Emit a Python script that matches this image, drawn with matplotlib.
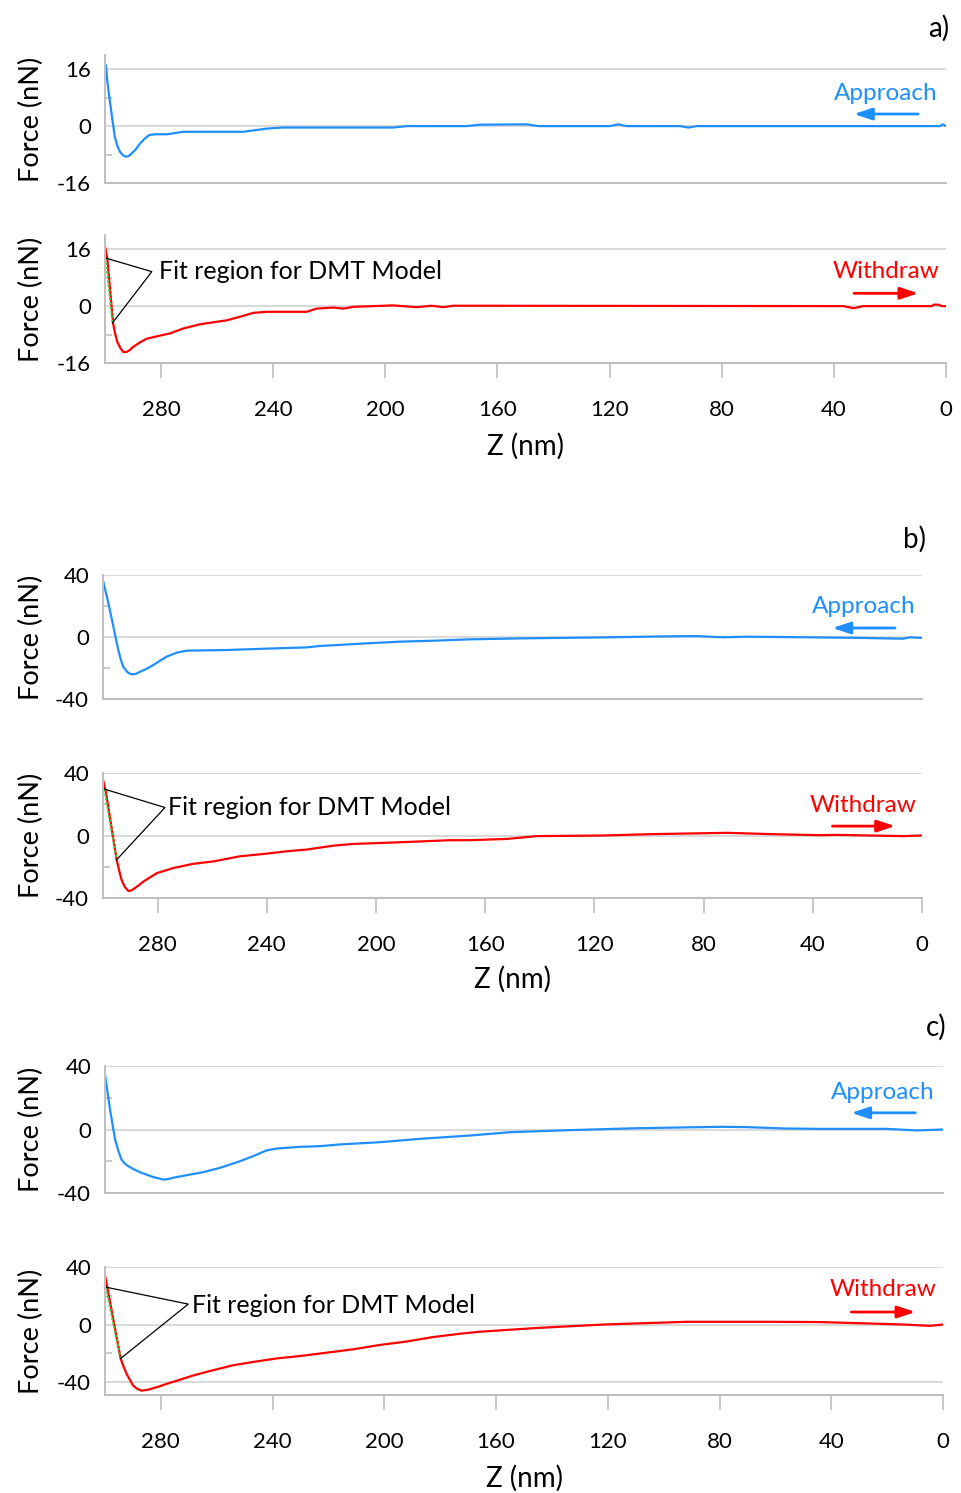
import numpy as np
import matplotlib
matplotlib.use('Agg')
import matplotlib.pyplot as plt
from matplotlib.ticker import MultipleLocator

plt.rcParams['font.family'] = ['Lato', 'DejaVu Sans']
plt.rcParams['axes.unicode_minus'] = False

# ---- data (Z in nm, force in nN) ----
a_app_z = [299.7, 299.0, 298.3, 297.4, 296.5, 295.6, 294.7, 293.6, 292.5, 291.5, 290.5, 289.0,
           287.5, 285.8, 284.2, 282.0, 278.0, 272.1, 250.7, 242.3, 236.4, 197.2, 192.4, 171.0,
           166.2, 149.6, 145.4, 119.9, 116.9, 113.9, 94.9, 91.9, 88.9, 2.1, 1.2, 0.0]
a_app_f = [17.1, 11.5, 7.3, 2.0, -3.0, -5.5, -7.2, -8.2, -8.6, -8.4, -7.7, -6.5,
           -4.9, -3.5, -2.5, -2.3, -2.3, -1.6, -1.6, -0.7, -0.4, -0.4, 0.0, 0.0,
           0.4, 0.5, 0.0, 0.0, 0.5, 0.0, 0.0, -0.4, 0.0, 0.0, 0.5, 0.0]
a_wd_z = [300.0, 299.2, 297.1, 296.3, 295.6, 294.5, 293.5, 292.3, 291.2, 290.0, 287.5, 285.2,
          281.0, 276.9, 272.1, 266.1, 256.6, 251.9, 247.1, 242.3, 228.1, 224.5, 218.6, 215.0,
          211.4, 197.2, 188.8, 183.5, 179.3, 175.8, 166.2, 36.6, 33.0, 29.5, 5.1, 4.3, 2.7, 1.5, 0.0]
a_wd_f = [16.8, 13.5, -4.9, -8.0, -10.1, -11.8, -12.9, -12.9, -12.4, -11.5, -10.2, -9.2,
          -8.4, -7.7, -6.3, -5.1, -4.0, -3.0, -1.9, -1.6, -1.6, -0.7, -0.4, -0.7,
          -0.2, 0.2, -0.3, 0.1, -0.3, 0.1, 0.1, 0.0, -0.6, 0.0, 0.0, 0.4, 0.4, 0.0, 0.0]
a_fit_z = [299.7, 297.3]
a_fit_f = [13.5, -4.7]

b_app_z = [299.9, 298.0, 296.2, 294.4, 293.5, 292.6, 291.0, 289.5, 288.0, 286.4, 284.0, 281.6,
           279.0, 276.7, 273.0, 269.3, 254.7, 240.0, 225.4, 220.5, 203.4, 191.2, 179.0, 165.6,
           147.3, 114.3, 94.8, 82.6, 72.8, 64.3, 25.2, 6.9, 4.4, 0.0]
b_app_f = [35.7, 21.7, 6.7, -8.4, -14.5, -19.2, -22.8, -24.1, -23.8, -22.4, -20.5, -18.1,
           -15.2, -12.7, -10.1, -8.8, -8.4, -7.5, -6.7, -5.8, -4.1, -3.0, -2.4, -1.5,
           -0.9, -0.2, 0.4, 0.6, -0.2, 0.2, -0.5, -1.1, -0.2, -0.6]
b_wd_z = [299.9, 298.9, 295.0, 294.0, 293.2, 292.0, 290.7, 289.8, 288.9, 287.0, 285.2, 282.5,
          280.3, 274.2, 266.9, 259.6, 249.8, 240.0, 232.7, 225.4, 215.6, 208.3, 197.3, 185.1,
          172.9, 165.6, 152.1, 141.1, 116.7, 98.4, 71.5, 55.7, 37.4, 31.3, 25.2, 6.9, 0.0]
b_wd_f = [35.0, 27.5, -15.5, -23.0, -28.4, -33.0, -35.5, -35.3, -34.4, -32.0, -29.5, -26.5,
          -24.1, -20.8, -18.1, -16.6, -13.3, -11.6, -10.1, -9.0, -6.5, -5.4, -4.7, -3.9,
          -3.0, -3.0, -2.2, -0.4, 0.0, 0.9, 1.7, 0.9, 0.2, 0.4, 0.2, -0.4, 0.0]
b_fit_z = [299.5, 295.0]
b_fit_f = [29.7, -15.5]

c_app_z = [300.0, 298.2, 296.4, 295.2, 294.1, 293.0, 291.7, 289.5, 287.5, 282.7, 279.2, 277.5,
           275.6, 270.8, 264.9, 258.9, 251.7, 247.0, 242.2, 238.6, 230.2, 223.1, 215.9, 201.6,
           187.3, 172.9, 169.4, 155.0, 133.5, 109.7, 79.8, 70.3, 56.0, 44.0, 20.2, 9.4, 0.0]
c_app_f = [34.6, 12.6, -6.3, -13.5, -18.9, -21.3, -23.1, -25.2, -26.9, -30.0, -31.5, -31.3,
           -30.4, -28.8, -26.9, -24.2, -20.0, -16.8, -13.2, -12.0, -10.9, -10.5, -9.4, -8.0,
           -5.9, -4.2, -3.8, -1.7, -0.4, 0.8, 1.7, 1.5, 0.6, 0.4, 0.4, -0.6, 0.0]
c_wd_z = [300.0, 299.2, 294.4, 293.3, 292.3, 291.0, 289.9, 288.4, 286.9, 284.5, 281.0, 278.0,
          273.2, 268.4, 262.4, 254.1, 246.9, 238.6, 230.2, 220.7, 211.1, 201.6, 192.0, 182.5,
          172.9, 165.8, 145.5, 121.6, 91.8, 61.9, 44.0, 26.1, 14.2, 4.7, 0.0]
c_wd_f = [34.2, 26.0, -23.6, -29.5, -34.2, -38.8, -42.5, -44.8, -46.0, -45.3, -43.3, -41.3,
          -38.4, -35.4, -32.3, -28.3, -26.0, -23.6, -21.9, -19.6, -17.2, -14.2, -11.8, -8.7,
          -6.4, -5.0, -2.4, 0.0, 1.9, 1.9, 1.7, 0.7, 0.0, -0.9, 0.0]
c_fit_z = [299.7, 294.4]
c_fit_f = [26.0, -23.6]

x_ticks = [280, 240, 200, 160, 120, 80, 40, 0]

BLUE = '#1f8fff'
RED = '#ff0000'
GRID = '#d9d9d9'
SPINE = '#bfbfbf'

W, H = 962, 1493
fig = plt.figure(figsize=(W / 100, H / 100), dpi=100)


def rect(l, r, t, b):
    return [l / W, 1 - b / H, (r - l) / W, (b - t) / H]


def style(ax, ylim, major, l, r):
    ax.set_xlim(300, 0)
    ax.set_ylim(*ylim)
    ax.set_yticks([-major, 0, major])
    ax.yaxis.set_minor_locator(MultipleLocator(major / 2))
    ax.grid(axis='y', which='major', color=GRID, lw=1.4)
    ax.set_axisbelow(True)
    for s in ['top', 'right']:
        ax.spines[s].set_visible(False)
    for s in ['left', 'bottom']:
        ax.spines[s].set_color(SPINE)
        ax.spines[s].set_linewidth(1.4)
    ax.tick_params(axis='y', which='major', length=0, pad=10, labelsize=16)
    ax.tick_params(axis='y', which='minor', direction='in', length=5, color=SPINE, width=1.2)
    ax.set_ylabel('Force (nN)', fontsize=19.5)
    ax.yaxis.set_label_coords((44 - l) / (r - l), 0.5)


def pair(box, app_z, app_f, wd_z, wd_f, fit_z, fit_f, lims, major,
         fit_join, fit_text, app_lbl, app_arr, wd_lbl, wd_arr, xlab_top):
    l, r, t1, b1, t2, b2 = box
    ax1 = fig.add_axes(rect(l, r, t1, b1))
    style(ax1, lims[0], major, l, r)
    ax1.plot(app_z, app_f, color=BLUE, lw=1.6)
    ax1.set_xticks([])
    ax1.text(21.5, app_lbl, 'Approach', color=BLUE, fontsize=17.5, ha='center', va='baseline')
    ax1.annotate('', xy=(32.8, app_arr), xytext=(9.9, app_arr),
                 arrowprops=dict(arrowstyle='-|>,head_length=0.6,head_width=0.2',
                                 color=BLUE, lw=2, shrinkA=0, shrinkB=0, mutation_scale=18))

    ax2 = fig.add_axes(rect(l, r, t2, b2))
    style(ax2, lims[1], major, l, r)
    ax2.plot(wd_z, wd_f, color=RED, lw=1.6)
    ax2.plot(fit_z, fit_f, color='#3cc83c', lw=1.6, ls=(0, (1, 1)))
    jz, jf = fit_join
    ax2.plot([fit_z[0], jz, fit_z[1]], [fit_f[0], jf, fit_f[1]], color='black', lw=0.9)
    ax2.text(fit_text[0], fit_text[1], 'Fit region for DMT Model', fontsize=18,
             ha='left', va='baseline')
    ax2.text(21.5, wd_lbl, 'Withdraw', color=RED, fontsize=17.5, ha='center', va='baseline')
    ax2.annotate('', xy=(9.9, wd_arr), xytext=(32.8, wd_arr),
                 arrowprops=dict(arrowstyle='-|>,head_length=0.6,head_width=0.2',
                                 color=RED, lw=2, shrinkA=0, shrinkB=0, mutation_scale=18))
    ax2.set_xticks(x_ticks)
    ax2.tick_params(axis='x', direction='out', length=10.5, width=1.2, color=SPINE,
                    pad=16, labelsize=16)
    ax2.set_xlabel('Z (nm)', fontsize=20)
    ax2.xaxis.set_label_coords(0.5, (b2 - xlab_top) / (b2 - t2))


pair((105, 946, 55, 183, 235, 363), a_app_z, a_app_f, a_wd_z, a_wd_f, a_fit_z, a_fit_f,
     [(-16, 20), (-16, 20)], 16, (283.3, 9.7), (280.8, 7.6), 7.3, 3.4, 7.8, 3.6, 433)
pair((103, 922, 575, 699, 773, 898), b_app_z, b_app_f, b_wd_z, b_wd_f, b_fit_z, b_fit_f,
     [(-40, 40), (-40, 40)], 40, (277.3, 17.9), (276.3, 12.9), 15.3, 5.8, 15.3, 6.0, 966)
pair((105, 943, 1066, 1193, 1267, 1395), c_app_z, c_app_f, c_wd_z, c_wd_f, c_fit_z, c_fit_f,
     [(-40, 40), (-49, 40)], 40, (270.2, 14.2), (268.8, 8.3), 19.3, 10.5, 19.6, 8.7, 1465)

for lbl, px, py in [('a)', 939, 28), ('b)', 915, 539), ('c)', 936, 1027)]:
    fig.text(px / W, 1 - py / H, lbl, fontsize=20, ha='center', va='center')

fig.savefig('out.png', dpi=100)
